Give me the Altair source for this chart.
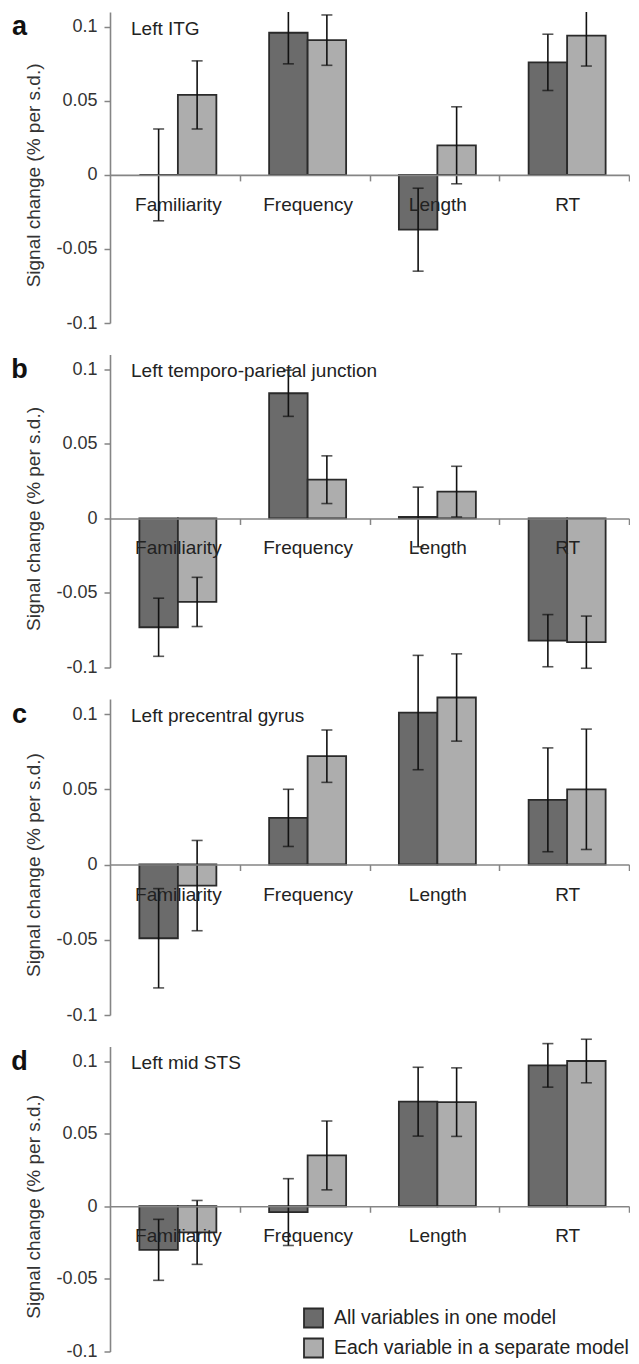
import altair as alt
import pandas as pd

categories = ["Familiarity", "Frequency", "Length", "RT"]
models = ["All variables in one model", "Each variable in a separate model"]
letters = ["a", "b", "c", "d"]
regions = ["Left ITG", "Left temporo-parietal junction", "Left precentral gyrus", "Left mid STS"]
y_ticks = [-0.1, -0.05, 0, 0.05, 0.1]

# panel a: Left ITG
a_one = [0.000, 0.096, -0.037, 0.076]
a_one_err = [0.031, 0.021, 0.028, 0.019]
a_sep = [0.054, 0.091, 0.020, 0.094]
a_sep_err = [0.023, 0.017, 0.026, 0.0205]

# panel b: Left temporo-parietal junction
b_one = [-0.073, 0.084, 0.001, -0.082]
b_one_err = [0.0195, 0.0155, 0.020, 0.0175]
b_sep = [-0.056, 0.026, 0.018, -0.083]
b_sep_err = [0.0165, 0.016, 0.017, 0.0175]

# panel c: Left precentral gyrus
c_one = [-0.049, 0.031, 0.101, 0.043]
c_one_err = [0.033, 0.019, 0.038, 0.0345]
c_sep = [-0.014, 0.072, 0.111, 0.050]
c_sep_err = [0.030, 0.0174, 0.029, 0.040]

# panel d: Left mid STS
d_one = [-0.030, -0.004, 0.072, 0.097]
d_one_err = [0.021, 0.023, 0.0237, 0.015]
d_sep = [-0.018, 0.035, 0.0717, 0.100]
d_sep_err = [0.022, 0.0237, 0.0236, 0.015]

FONT = "Liberation Sans"
W = 519
HEIGHTS = [311, 313, 316, 305]
Y_MIN, Y_MAX = -0.1, 0.11
BAND = W / len(categories)
BAR_W = 38.5
OFF_PAD = (BAND / BAR_W - 2) / 2
SHIFT = 3.0
OFF_ALIGN = 0.5 + SHIFT / (BAND - 2 * BAR_W)
COLORS = ["#6b6b6b", "#adadad"]
AXIS_GRAY = "#858585"
BAR_EDGE = "#2a2a2a"


def panel(idx, one, one_err, sep, sep_err, show_legend=False, top_limit=False):
    H = HEIGHTS[idx]
    zero_px = H * Y_MAX / (Y_MAX - Y_MIN)
    rows = []
    for m, vals, errs in ((models[0], one, one_err), (models[1], sep, sep_err)):
        for c, v, e in zip(categories, vals, errs):
            rows.append({"cat": c, "model": m, "value": v, "lo": v - e, "hi": v + e})
    df = pd.DataFrame(rows)

    x = alt.X(
        "cat:N", sort=categories, title=None,
        scale=alt.Scale(paddingInner=0, paddingOuter=0),
        axis=alt.Axis(
            orient="bottom", offset=-(H - zero_px), tickSize=6, tickWidth=1.5,
            tickColor=AXIS_GRAY, domainColor=AXIS_GRAY, domainWidth=1.6,
            tickOffset=BAND / 2, labelOffset=-BAND / 2 + SHIFT, labelPadding=14.5,
            labelFontSize=19, labelFont=FONT, labelColor="#222", labelAngle=0,
            zindex=1, grid=False,
        ),
    )
    xo = alt.XOffset("model:N", sort=models,
                     scale=alt.Scale(paddingInner=0, paddingOuter=OFF_PAD,
                                     align=OFF_ALIGN))
    y = alt.Y(
        "value:Q", title="Signal change (% per s.d.)",
        scale=alt.Scale(domain=[Y_MIN, Y_MAX], nice=False, zero=False,
                        clamp=top_limit),
        axis=alt.Axis(
            values=y_ticks, labelExpr="toString(datum.value)", grid=False,
            tickSize=6, tickWidth=1.5, tickColor=AXIS_GRAY, domainColor=AXIS_GRAY,
            domainWidth=1.6, labelPadding=7, labelFontSize=18, labelFont=FONT,
            labelColor="#333", titleFont=FONT, titleFontSize=19,
            titleFontWeight="normal", titleColor="#333", titlePadding=12,
            titleY=zero_px,
        ),
    )
    if show_legend:
        legend = alt.Legend(
            title=None, orient="none", legendX=193, legendY=261,
            symbolType="square", symbolSize=361, symbolStrokeColor=BAR_EDGE,
            symbolStrokeWidth=1.8, labelFontSize=19.5, labelFont=FONT,
            labelColor="#222", labelOffset=10, rowPadding=3, padding=0,
            labelLimit=500,
        )
        color = alt.Color("model:N", sort=models,
                          scale=alt.Scale(domain=models, range=COLORS), legend=legend)
    else:
        color = alt.Color("model:N", sort=models,
                          scale=alt.Scale(domain=models, range=COLORS), legend=None)

    base = alt.Chart(df)
    bars = base.mark_bar(stroke=BAR_EDGE, strokeWidth=1.8, opacity=1).encode(
        x=x, xOffset=xo, y=y, y2=alt.datum(0), color=color
    )
    rules = base.mark_rule(color="#111", strokeWidth=1.6).encode(
        x=x, xOffset=xo, y=alt.Y("lo:Q"), y2="hi:Q"
    )
    cap_base = base.transform_filter(f"datum.hi <= {Y_MAX}") if top_limit else base
    caps_hi = cap_base.mark_tick(color="#111", thickness=1.6, size=11,
                                 orient="horizontal").encode(
        x=x, xOffset=xo, y=alt.Y("hi:Q")
    )
    caps_lo = base.mark_tick(color="#111", thickness=1.6, size=11,
                             orient="horizontal").encode(
        x=x, xOffset=xo, y=alt.Y("lo:Q")
    )
    tdf = pd.DataFrame({"region": [regions[idx]], "letter": [letters[idx]]})
    title = alt.Chart(tdf).mark_text(
        align="left", baseline="alphabetic", dy=8, font=FONT, fontSize=19,
        color="#222"
    ).encode(x=alt.value(21), y=alt.datum(0.1), text="region:N")
    letter = alt.Chart(tdf).mark_text(
        align="center", baseline="alphabetic", dy=8.5, font=FONT, fontSize=27,
        fontWeight="bold", color="#111"
    ).encode(x=alt.value(-90.5), y=alt.datum(0.1), text="letter:N")

    return alt.layer(bars, rules, caps_hi, caps_lo, title, letter).properties(
        width=W, height=H,
        view=alt.ViewBackground(stroke="transparent", strokeWidth=0),
    )


chart = alt.vconcat(
    panel(0, a_one, a_one_err, a_sep, a_sep_err, top_limit=True),
    panel(1, b_one, b_one_err, b_sep, b_sep_err),
    panel(2, c_one, c_one_err, c_sep, c_sep_err),
    panel(3, d_one, d_one_err, d_sep, d_sep_err, show_legend=True),
    spacing=31.5, bounds="flush",
    padding={"left": 3, "top": 3, "right": 0, "bottom": 0},
).resolve_scale(color="independent").configure_view(
    stroke="transparent", strokeWidth=0
).configure(font=FONT)

chart.save("out.html", embed_options={"renderer": "svg", "actions": False})
